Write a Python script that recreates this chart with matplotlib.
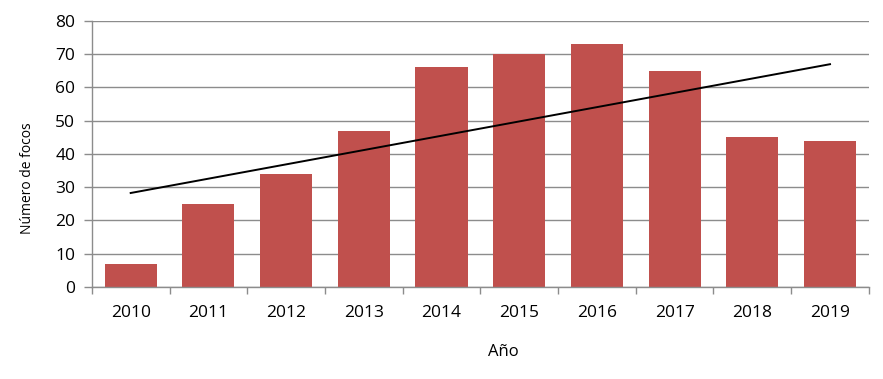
import matplotlib
matplotlib.use("Agg")
import matplotlib.pyplot as plt
import numpy as np

years = ["2010", "2011", "2012", "2013", "2014", "2015", "2016", "2017", "2018", "2019"]
focos = [7, 25, 34, 47, 66, 70, 73, 65, 45, 44]

plt.rcParams['font.family'] = ['Open Sans', 'DejaVu Sans']

fig = plt.figure(figsize=(8.83, 3.79), dpi=100)
ax = fig.add_axes([0.104, 0.243, 0.880, 0.702])

x = np.arange(len(years))
ax.bar(x, focos, width=0.67, color="#C0504D", zorder=2)

coef = np.polyfit(x, focos, 1)
ax.plot(x, np.polyval(coef, x), color="black", lw=1.4, zorder=3)

ax.set_xlim(-0.5, len(years) - 0.5)
ax.set_ylim(0, 80)
ax.set_yticks(range(0, 81, 10))
ax.grid(axis="y", color="#8c8c8c", lw=1.0, zorder=0)
ax.set_axisbelow(True)

ax.set_xticks(x)
ax.set_xticklabels(years)
ax.set_xticks(np.arange(-0.5, len(years)), minor=True)
ax.tick_params(axis="x", which="major", length=0, pad=13, labelsize=12.5)
ax.tick_params(axis="x", which="minor", length=5, color="#8c8c8c", width=1)
ax.tick_params(axis="y", length=6, color="#8c8c8c", width=1, labelsize=12.5, pad=6)

for s in ["top", "right"]:
    ax.spines[s].set_visible(False)
for s in ["left", "bottom"]:
    ax.spines[s].set_color("#8c8c8c")
    ax.spines[s].set_linewidth(1.0)

ax.set_ylabel("Número de focos", fontsize=10, labelpad=12)
ax.yaxis.set_label_coords(-0.073, 0.41)
ax.set_xlabel("Año", fontsize=12, labelpad=14)
ax.xaxis.set_label_coords(0.53, -0.215)

fig.savefig("out.png", dpi=100)
